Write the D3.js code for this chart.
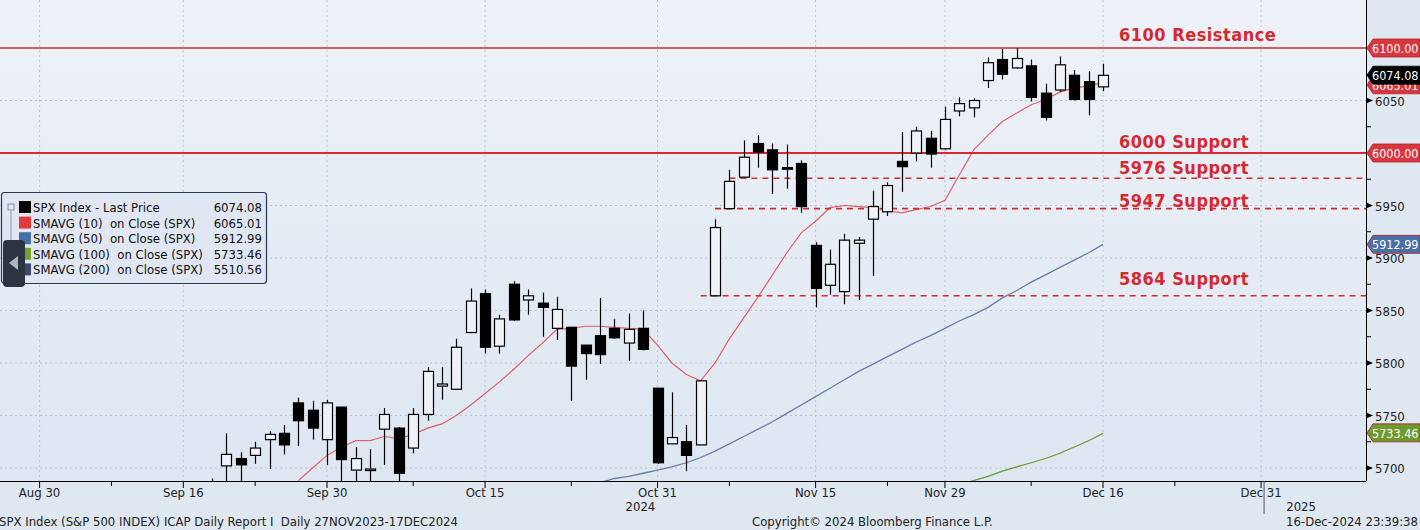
<!DOCTYPE html>
<html><head><meta charset="utf-8">
<script src="https://cdn.jsdelivr.net/npm/d3@7"></script>
<style>body{margin:0;background:#dfe7f1;}svg{display:block}</style>
</head><body><svg id="c" width="1420" height="530"></svg>
<script>
const dates = ["2024-09-18","2024-09-19","2024-09-20","2024-09-23","2024-09-24","2024-09-25","2024-09-26","2024-09-27","2024-09-30",
"2024-10-01","2024-10-02","2024-10-03","2024-10-04","2024-10-07","2024-10-08","2024-10-09","2024-10-10","2024-10-11","2024-10-14","2024-10-15","2024-10-16","2024-10-17","2024-10-18","2024-10-21","2024-10-22","2024-10-23","2024-10-24","2024-10-25","2024-10-28","2024-10-29","2024-10-30","2024-10-31",
"2024-11-01","2024-11-04","2024-11-05","2024-11-06","2024-11-07","2024-11-08","2024-11-11","2024-11-12","2024-11-13","2024-11-14","2024-11-15","2024-11-18","2024-11-19","2024-11-20","2024-11-21","2024-11-22","2024-11-25","2024-11-26","2024-11-27","2024-11-29",
"2024-12-02","2024-12-03","2024-12-04","2024-12-05","2024-12-06","2024-12-09","2024-12-10","2024-12-11","2024-12-12","2024-12-13","2024-12-16"];
const open  = [5641,5702,5709,5712,5727,5733,5762,5755,5727,5758,5698,5698,5737,5738,5719,5751,5778,5775,5829,5866,5816,5875,5860,5857,5833,5834,5817,5826,5833,5819,5833,5776,5723,5725,5722,5864,5947,5977,6009,6003,5986,5990,5912,5874,5868,5914,5937,5944,5992,6000,6014,6004,6040,6043,6069,6089,6081,6083,6057,6060,6074,6068,6063];
const high  = [5690,5733,5715,5725,5735,5741,5767,5764,5765,5758,5720,5718,5757,5739,5757,5796,5796,5823,5871,5870,5846,5878,5870,5867,5863,5834,5817,5862,5842,5847,5850,5776,5772,5741,5784,5937,5984,6012,6017,6009,6008,5993,5915,5908,5923,5920,5964,5972,6020,6025,6021,6044,6053,6052,6091,6099,6100,6089,6066,6092,6079,6078,6085];
const low   = [5615,5686,5674,5704,5699,5713,5721,5727,5703,5677,5677,5674,5703,5685,5714,5745,5765,5775,5829,5809,5809,5840,5846,5825,5822,5764,5784,5799,5823,5802,5812,5704,5723,5697,5722,5864,5947,5977,5986,5961,5966,5943,5853,5865,5856,5860,5883,5940,5963,5992,5986,6003,6035,6034,6062,6070,6080,6049,6031,6058,6050,6036,6059];
const close = [5618,5713,5703,5719,5732,5722,5745,5738,5762,5708,5709,5699,5751,5695,5751,5792,5780,5815,5859,5815,5842,5841,5864,5853,5851,5797,5809,5808,5824,5832,5813,5705,5729,5712,5783,5929,5973,5996,6001,5984,5985,5949,5871,5894,5917,5917,5949,5969,5987,6021,5999,6032,6047,6050,6086,6075,6090,6053,6034,6084,6051,6051,6074];
const sma10 = [null,null,null,null,null,null,5688,5700,5712,5720,5726,5726,5730,5728,5732,5738,5742,5750,5760,5771,5782,5794,5807,5819,5832,5833,5835,5835,5834,5833,5832,5817,5800,5789,5783,5800,5823,5843,5863,5884,5905,5924,5935,5948,5950,5949,5948,5945,5943,5946,5949,5955,5979,6003,6017,6030,6038,6046,6051,6058,6062,6064,6067];
const sma50 = [null,null,null,null,null,null,null,null,null,null,null,null,null,null,null,null,null,null,null,null,null,null,null,null,null,null,null,5686,5690,5692,5695,5698,5701,5705,5710,5716,5723,5730,5737,5744,5752,5760,5768,5776,5784,5792,5799,5806,5813,5820,5826,5833,5840,5846,5853,5862,5869,5877,5884,5891,5898,5905,5913];
const sma100= [null,null,null,null,null,null,null,null,null,null,null,null,null,null,null,null,null,null,null,null,null,null,null,null,null,null,null,null,null,null,null,null,null,null,null,null,null,null,null,null,null,null,null,null,null,null,null,null,null,null,null,null,5684,5688,5692,5697,5701,5705,5709,5714,5720,5726,5733];
const levels = [6100,6000,5976,5947,5864];
const levelLabels = ["6100 Resistance","6000 Support","5976 Support","5947 Support","5864 Support"];
const levelStart = [null,null,"2024-11-07","2024-11-06","2024-11-05"];
const labelShift = [-7,-5,-4,-2,-11];
const yTicks = [5700,5750,5800,5850,5900,5950,6050];
const xLabels = [["2024-08-30","Aug 30"],["2024-09-16","Sep 16"],["2024-09-30","Sep 30"],["2024-10-15","Oct 15"],["2024-10-31","Oct 31"],["2024-11-15","Nov 15"],["2024-11-29","Nov 29"],["2024-12-16","Dec 16"],["2024-12-31","Dec 31"]];
const xMinor = ["2024-09-09","2024-09-23","2024-10-08","2024-10-23","2024-11-07","2024-11-22","2024-12-09","2024-12-23"];
const legendRows = [["SPX Index - Last Price","6074.08","#000"],["SMAVG (10)  on Close (SPX)","6065.01","#e03a3a"],["SMAVG (50)  on Close (SPX)","5912.99","#4a6fa5"],["SMAVG (100)  on Close (SPX)","5733.46","#7aa02a"],["SMAVG (200)  on Close (SPX)","5510.56","#3a4a70"]];
const tags = [[6100,"6100.00","#d9363e","#fff"],[6065.01,"6065.01","#d9363e","#fff"],[6074.08,"6074.08","#000","#fff"],[6000,"6000.00","#d9363e","#fff"],[5912.99,"5912.99","#4a6fa5","#fff"],[5733.46,"5733.46","#6e9a2c","#fff"]];

const hol = new Set(["2024-09-02","2024-11-28"]);
const days = [];
for (let d = new Date(Date.UTC(2024,7,26)); d <= new Date(Date.UTC(2025,0,15)); d.setUTCDate(d.getUTCDate()+1)) {
  const wd = d.getUTCDay(); const s = d.toISOString().slice(0,10);
  if (wd>0 && wd<6 && !hol.has(s)) days.push(s);
}
const idx = s => days.indexOf(s);
const W=1366, B=481;
const x = d3.scaleLinear().domain([idx("2024-09-30"), idx("2024-12-16")]).range([327,1103]);
const y = d3.scaleLinear().domain([6000,6100]).range([153,48]);
const X = s => x(idx(s));
const svg = d3.select("#c");
const font = "'DejaVu Sans Condensed','DejaVu Sans',sans-serif";
svg.append("rect").attr("width",1420).attr("height",530).attr("fill","#dfe7f1");
const defs = svg.append("defs");
const grad = defs.append("linearGradient").attr("id","bg").attr("x1",0).attr("y1",0).attr("x2",0).attr("y2",1);
grad.append("stop").attr("offset","0%").attr("stop-color","#eef2f8");
grad.append("stop").attr("offset","100%").attr("stop-color","#dde6f1");
defs.append("clipPath").attr("id","cp").append("rect").attr("width",W).attr("height",B);
svg.append("rect").attr("width",W).attr("height",B).attr("fill","url(#bg)");
const g = svg.append("g").attr("clip-path","url(#cp)");
yTicks.concat([6000,6100]).forEach(v=>g.append("line").attr("x1",0).attr("x2",W).attr("y1",y(v)).attr("y2",y(v)).attr("stroke","#b8c3d2").attr("stroke-dasharray","2,3"));
xLabels.forEach(([d])=>g.append("line").attr("x1",X(d)).attr("x2",X(d)).attr("y1",0).attr("y2",B).attr("stroke","#b8c3d2").attr("stroke-dasharray","2,3"));
const line = d3.line().defined(v=>v!=null).x((v,i)=>X(dates[i])).y(v=>y(v));
g.append("path").attr("d",line(sma100)).attr("fill","none").attr("stroke","#6e9a2c").attr("stroke-width",1.2);
g.append("path").attr("d",line(sma50)).attr("fill","none").attr("stroke","#6a7f9f").attr("stroke-width",1.3);
g.append("path").attr("d",line(sma10)).attr("fill","none").attr("stroke","#e0606a").attr("stroke-width",1.2);
levels.forEach((v,i)=>{
  const solid = levelStart[i]==null;
  g.append("line").attr("x1",solid?0:X(levelStart[i])).attr("x2",W).attr("y1",y(v)).attr("y2",y(v))
   .attr("stroke","#d42a30").attr("stroke-width",solid?(v===6000?2:1.5):1.6).attr("stroke-dasharray",solid?null:"6,5");
});
dates.forEach((d,i)=>{
  const cx = Math.round(X(d))+0.5, up = close[i]>=open[i];
  g.append("line").attr("x1",cx).attr("x2",cx).attr("y1",y(high[i])).attr("y2",y(low[i])).attr("stroke","#000").attr("stroke-width",1.2);
  const t=y(Math.max(open[i],close[i])), b=y(Math.min(open[i],close[i]));
  g.append("rect").attr("x",cx-5).attr("width",10).attr("y",t).attr("height",Math.max(1.5,b-t))
   .attr("fill",up?"#eef2f8":"#000").attr("stroke","#000").attr("stroke-width",1.2);
});
levels.forEach((v,i)=>svg.append("text").attr("x",1119).attr("y",y(v)+labelShift[i]).text(levelLabels[i])
  .attr("fill","#d42a30").attr("font-family",font).attr("font-weight","bold").attr("font-size",18).attr("letter-spacing",0.5));
svg.append("line").attr("x1",W+0.5).attr("x2",W+0.5).attr("y1",0).attr("y2",B).attr("stroke","#000");
svg.append("line").attr("x1",0).attr("x2",W).attr("y1",B+0.5).attr("y2",B+0.5).attr("stroke","#000");
yTicks.forEach(v=>{
  svg.append("path").attr("d",`M${W},${y(v)-3}L${W+7},${y(v)}L${W},${y(v)+3}Z`).attr("fill","#000");
  svg.append("text").attr("x",1375).attr("y",y(v)+5).text(v).attr("font-family",font).attr("font-size",13).attr("fill","#222");
});
[5725,5775,5825,5875,5925,5975,6025,6075].forEach(v=>svg.append("line").attr("x1",W).attr("x2",W+5).attr("y1",y(v)).attr("y2",y(v)).attr("stroke","#000"));
xLabels.forEach(([d,l])=>{
  svg.append("line").attr("x1",X(d)).attr("x2",X(d)).attr("y1",B).attr("y2",B+7).attr("stroke","#000");
  svg.append("text").attr("x",X(d)).attr("y",497).attr("text-anchor","middle").text(l).attr("font-family",font).attr("font-size",13).attr("fill","#222");
});
xMinor.forEach(d=>svg.append("line").attr("x1",X(d)).attr("x2",X(d)).attr("y1",B).attr("y2",B+5).attr("stroke","#000"));
svg.append("text").attr("x",X("2024-10-31")-32).attr("y",511).text("2024").attr("font-family",font).attr("font-size",13).attr("fill","#222");
const yb = X("2024-12-31")+3;
svg.append("line").attr("x1",yb).attr("x2",yb).attr("y1",B).attr("y2",514).attr("stroke","#555");
svg.append("text").attr("x",yb+37).attr("y",511).attr("text-anchor","middle").text("2025").attr("font-family",font).attr("font-size",13).attr("fill","#222");
const ft=(t,xx,a)=>svg.append("text").attr("x",xx).attr("y",526).attr("text-anchor",a).text(t).attr("font-family",font).attr("font-size",13).attr("fill","#222").style("white-space","pre");
ft("SPX Index (S&P 500 INDEX) ICAP Daily Report I  Daily 27NOV2023-17DEC2024",-1,"start");
ft("Copyright\u00a9 2024 Bloomberg Finance L.P.",752,"start");
ft("16-Dec-2024 23:39:38",1418,"end");
tags.forEach(([v,t,bg,fg])=>{
  const yy=y(v);
  svg.append("path").attr("d",`M${W+1},${yy}L${W+7},${yy-9}H1420V${yy+9}H${W+7}Z`).attr("fill",bg).attr("stroke",bg==="#000"?"#000":"#b02028").attr("stroke-width",0.8);
  svg.append("text").attr("x",1372).attr("y",yy+5).text(t).attr("font-family",font).attr("font-size",12.5).attr("fill",fg);
});
const lg = svg.append("g");
lg.append("rect").attr("x",1.5).attr("y",192.5).attr("width",265).attr("height",91).attr("rx",3).attr("fill","#dfe6f1").attr("fill-opacity",0.95).attr("stroke","#2a3550").attr("stroke-width",1.2);
legendRows.forEach(([n,v,c],i)=>{
  const yy=212+i*15.6;
  lg.append("rect").attr("x",19).attr("y",yy-11).attr("width",12).attr("height",12).attr("fill",c);
  lg.append("text").attr("x",33).attr("y",yy).text(n).attr("font-family",font).attr("font-size",13).attr("fill","#111").style("white-space","pre");
  lg.append("text").attr("x",262).attr("y",yy).attr("text-anchor","end").text(v).attr("font-family",font).attr("font-size",13).attr("fill","#111");
});
lg.append("rect").attr("x",8).attr("y",204).attr("width",6).attr("height",6).attr("fill","none").attr("stroke","#777").attr("stroke-width",0.8);
lg.append("line").attr("x1",11).attr("x2",11).attr("y1",211).attr("y2",270).attr("stroke","#999");
lg.append("rect").attr("x",3).attr("y",240).attr("width",22).attr("height",47).attr("rx",4).attr("fill","#2b3440");
lg.append("path").attr("d","M9,263L18,256V270Z").attr("fill","#aab4c2");
</script></body></html>
